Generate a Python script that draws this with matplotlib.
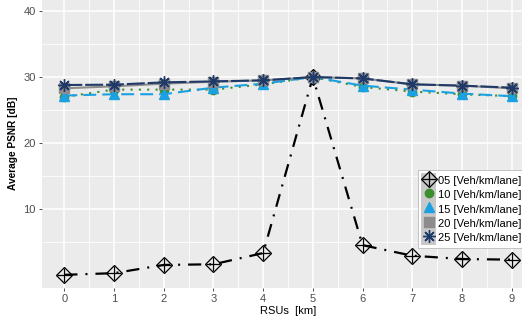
import matplotlib
matplotlib.use("Agg")
import matplotlib.pyplot as plt
import matplotlib.patches as mpatches
from matplotlib.legend_handler import HandlerTuple
from matplotlib.ticker import MultipleLocator

plt.rcParams['font.family'] = ['Liberation Sans', 'DejaVu Sans']

# data
rsu = [0, 1, 2, 3, 4, 5, 6, 7, 8, 9]
psnr_05 = [0.0, 0.25, 1.5, 1.6, 3.3, 30.0, 4.5, 2.9, 2.4, 2.3]
psnr_10 = [27.0, 28.1, 28.1, 28.1, 28.9, 30.0, 28.5, 27.8, 27.4, 27.1]
psnr_15 = [27.2, 27.4, 27.4, 28.4, 29.0, 30.0, 28.7, 28.1, 27.5, 27.1]
psnr_20 = [28.3, 28.6, 29.0, 29.3, 29.5, 30.0, 29.8, 28.9, 28.7, 28.3]
psnr_25 = [28.8, 28.85, 29.2, 29.35, 29.5, 30.0, 29.8, 28.9, 28.7, 28.4]
labels = ["05 [Veh/km/lane]", "10 [Veh/km/lane]", "15 [Veh/km/lane]",
          "20 [Veh/km/lane]", "25 [Veh/km/lane]"]

W, H = 522, 322
fig = plt.figure(figsize=(W / 100, H / 100), dpi=100)
ax = fig.add_axes([42 / W, 1 - 288 / H, (534 - 42) / W, (288 + 2) / H])
ax.set_facecolor('#EBEBEB')
for s in ax.spines.values():
    s.set_visible(False)

ax.set_xlim(-0.45, 9.45)
ax.set_ylim(-2, 42)
ax.set_xticks(rsu)
ax.set_yticks([10, 20, 30, 40])
ax.xaxis.set_minor_locator(MultipleLocator(1, offset=0.5))
ax.yaxis.set_minor_locator(MultipleLocator(10, offset=5))
ax.grid(which='major', color='white', lw=1.1)
ax.grid(which='minor', color='white', lw=0.55)
ax.set_axisbelow(True)
ax.tick_params(which='major', length=2.5, width=0.6, color='#333333',
               labelsize=8, labelcolor='#4D4D4D', pad=2)
ax.tick_params(which='minor', length=0)

# 05: dot-dash black, diamond with plus
l05, = ax.plot(rsu, psnr_05, color='black', lw=1.6, dashes=(5.9, 3.6, 0.9, 3.6),
               marker='D', ms=8, mfc='none', mec='black', mew=0.9, zorder=3)
p05, = ax.plot(rsu, psnr_05, ls='none', marker='+', ms=10.5, mec='black', mew=0.9, zorder=3)
# 10: dotted green, circle
l10, = ax.plot(rsu, psnr_10, color='#3C8D2F', lw=1.5, dashes=(1, 3),
               marker='o', ms=6, mec='#3C8D2F', zorder=4)
# 15: dashed light blue, triangle
l15, = ax.plot(rsu, psnr_15, color='#1BA1E2', lw=1.5, dashes=(6.2, 2.9),
               marker='^', ms=7.5, mec='#1BA1E2', zorder=5)
# 20: solid gray, square
l20, = ax.plot(rsu, psnr_20, color='#8C8C8C', lw=1.5,
               marker='s', ms=7, mec='#8C8C8C', zorder=6)
# 25: long-dash navy, asterisk
l25, = ax.plot(rsu, psnr_25, color='#1F3A68', lw=1.5, dashes=(8.6, 1.4),
               marker=(8, 2, 0), ms=9, mec='#1F3A68', mew=1.0, zorder=7)

ax.set_xlabel("RSUs  [km]", fontsize=8, color='black', labelpad=1)
ax.set_ylabel("Average PSNR [dB]", fontsize=7.3, fontweight='bold', color='black', labelpad=4)


def key():
    return mpatches.Patch(facecolor='#C8C8C8', edgecolor='none')


def mk(line):
    h, = ax.plot([], [], ls='none', marker=line.get_marker(), ms=line.get_markersize(),
                 mfc=line.get_markerfacecolor(), mec=line.get_markeredgecolor(),
                 mew=line.get_markeredgewidth())
    return h


handles = [(key(), mk(l05), mk(p05)), (key(), mk(l10)), (key(), mk(l15)),
           (key(), mk(l20)), (key(), mk(l25))]
leg = ax.legend(handles, labels, handler_map={tuple: HandlerTuple(ndivide=1, pad=0)},
                loc='upper left', bbox_to_anchor=(418 / W, 1 - 170 / H),
                bbox_transform=fig.transFigure, fontsize=8, frameon=True,
                fancybox=False, edgecolor='#BBBBBB', framealpha=1,
                handlelength=1.35, handleheight=1.6, labelspacing=0.0,
                handletextpad=0.15, borderpad=0.3, borderaxespad=0)
leg.get_frame().set_linewidth(0.6)

fig.savefig("out.png", dpi=100)
